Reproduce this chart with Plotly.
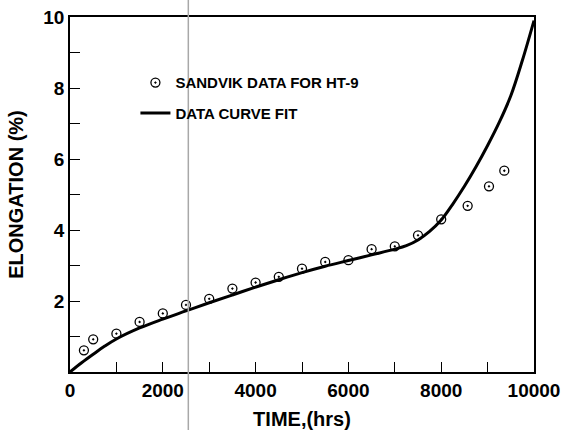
import plotly.graph_objects as go

# Sandvik HT-9 data points
data_time = [300, 500, 1000, 1500, 2000, 2500, 3000, 3500, 4000, 4500, 5000,
             5500, 6000, 6500, 7000, 7500, 8000, 8570, 9030, 9360]
data_elong = [0.61, 0.92, 1.08, 1.41, 1.65, 1.89, 2.06, 2.35, 2.52, 2.68, 2.91,
              3.10, 3.15, 3.46, 3.54, 3.85, 4.30, 4.68, 5.23, 5.67]

# Curve fit
fit_time = [0, 250, 500, 750, 1000, 1500, 2000, 2500, 3000, 3500, 4000, 4500, 5000,
            5500, 6000, 6500, 7000, 7250, 7500, 7750, 8000, 8250, 8500, 8750,
            9000, 9250, 9500, 9750, 10000]
fit_elong = [0.0, 0.26, 0.50, 0.73, 0.93, 1.24, 1.49, 1.72, 1.95, 2.17, 2.39, 2.60, 2.80,
             2.98, 3.14, 3.30, 3.46, 3.56, 3.72, 3.96, 4.28, 4.73, 5.23, 5.78,
             6.38, 7.03, 7.78, 8.78, 9.90]

x_tick_vals = [0, 2000, 4000, 6000, 8000, 10000]
y_tick_vals = [2, 4, 6, 8, 10]

FONT = "Liberation Sans, Arial, sans-serif"

fig = go.Figure()
fig.add_trace(go.Scatter(
    x=data_time, y=data_elong, mode="markers", name="SANDVIK DATA FOR HT-9",
    legendgroup="a",
    marker=dict(symbol="circle-dot", size=9, color="white",
                line=dict(color="black", width=1.3)),
))
fig.add_trace(go.Scatter(
    x=fit_time, y=fit_elong, mode="lines", name="DATA CURVE FIT",
    legendgroup="b",
    line=dict(color="black", width=3, shape="spline", smoothing=1.0),
))

# scan artifact vertical line
fig.add_shape(type="line", x0=2550, x1=2550, xref="x", yref="paper",
              y0=-0.17, y1=1.06, line=dict(color="#a8a8a8", width=1.5), layer="above")

axis_common = dict(
    showgrid=False, zeroline=False, showline=True, linecolor="black", linewidth=1.5,
    mirror=True, ticks="inside", ticklen=10, tickwidth=1.2, tickcolor="black",
    automargin=False,
    tickfont=dict(family=FONT, size=19, color="black", weight="bold"),
)

fig.update_xaxes(
    range=[0, 10000], tickvals=x_tick_vals, ticktext=[str(v) for v in x_tick_vals],
    minor=dict(dtick=1000, tick0=0, ticks="inside", ticklen=10, tickcolor="black", tickwidth=1.2),
    title=dict(text="TIME,(hrs)", font=dict(family=FONT, size=20, color="black", weight="bold"),
               standoff=16),
    **axis_common,
)
fig.update_yaxes(
    range=[0, 10], tickvals=y_tick_vals, ticktext=[str(v) for v in y_tick_vals],
    minor=dict(dtick=1, tick0=0, ticks="inside", ticklen=10, tickcolor="black", tickwidth=1.2),
    title=dict(text="ELONGATION (%)", font=dict(family=FONT, size=20, color="black", weight="bold"),
               standoff=14),
    **axis_common,
)

fig.update_layout(
    width=569, height=430,
    margin=dict(l=70, r=35, t=17, b=58),
    paper_bgcolor="white", plot_bgcolor="white",
    showlegend=True,
    legend=dict(x=0.141, y=0.861, xanchor="left", yanchor="top",
                bgcolor="rgba(0,0,0,0)", borderwidth=0,
                traceorder="grouped", tracegroupgap=8,
                font=dict(family=FONT, size=15, color="black", weight="bold")),
)

fig.write_html("out.html", config={"displayModeBar": False},
               post_script="document.body.style.margin='0';")
